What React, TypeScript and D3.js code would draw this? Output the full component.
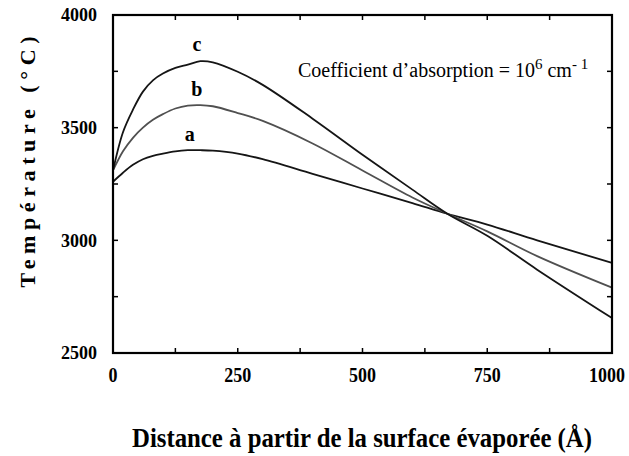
import React from "react";
import * as d3 from "d3";

const distance = [0, 20, 40, 60, 80, 100, 125, 150, 175, 200, 250, 300, 400, 500, 600, 670, 750, 850, 1000];
const curveA = [3260, 3300, 3335, 3360, 3375, 3385, 3395, 3400, 3400, 3398, 3385, 3360, 3295, 3230, 3165, 3118, 3070, 3000, 2900];
const curveB = [3310, 3395, 3455, 3500, 3535, 3560, 3585, 3598, 3600, 3595, 3565, 3530, 3430, 3310, 3190, 3118, 3040, 2930, 2790];
const curveC = [3310, 3480, 3580, 3660, 3710, 3740, 3765, 3780, 3795, 3790, 3748, 3690, 3540, 3380, 3225, 3118, 3020, 2870, 2655];
const seriesNames = ["a", "b", "c"];
const xTicks = [0, 250, 500, 750, 1000];
const xMinorTicks = [125, 375, 625, 875];
const yTicks = [2500, 3000, 3500, 4000];
const yMinorTicks = [2750, 3250, 3750];

const W = 629;
const H = 456;
const M = { left: 113, right: 17, top: 15, bottom: 103 };
const FONT = { fontFamily: "Liberation Serif" };

export default function App() {
  const x = d3.scaleLinear().domain([0, 1000]).range([M.left, W - M.right]);
  const y = d3.scaleLinear().domain([2500, 4000]).range([H - M.bottom, M.top]);
  const series = [curveA, curveB, curveC];
  const colors = ["#151515", "#505050", "#151515"];
  const line = d3
    .line<number>()
    .x((_, i) => x(distance[i]))
    .y((v) => y(v))
    .curve(d3.curveCatmullRom.alpha(0.5));
  const labelPos = [
    { d: 154, v: 3400 },
    { d: 168, v: 3600 },
    { d: 168, v: 3800 },
  ];
  const tickLen = 5;
  const x0 = x(0), x1 = x(1000), yb = y(2500), yt = y(4000);
  return (
    <svg width={W} height={H} style={{ position: "absolute", left: 0, top: 0, background: "#fff" }}>
      <rect x={0} y={0} width={W} height={H} fill="#fff" />
      {series.map((s, i) => (
        <path key={i} d={line(s) || ""} fill="none" stroke={colors[i]} strokeWidth={1.8} />
      ))}
      <rect x={x0} y={yt} width={x1 - x0} height={yb - yt} fill="none" stroke="#000" strokeWidth={2.2} />
      {[...xTicks, ...xMinorTicks].map((t) => (
        <g key={"xt" + t}>
          <line x1={x(t)} x2={x(t)} y1={yb} y2={yb - tickLen} stroke="#000" strokeWidth={1.5} />
          <line x1={x(t)} x2={x(t)} y1={yt} y2={yt + tickLen} stroke="#000" strokeWidth={1.5} />
        </g>
      ))}
      {[...yTicks, ...yMinorTicks].map((t) => (
        <g key={"yt" + t}>
          <line x1={x0} x2={x0 + tickLen} y1={y(t)} y2={y(t)} stroke="#000" strokeWidth={1.5} />
          <line x1={x1} x2={x1 - tickLen} y1={y(t)} y2={y(t)} stroke="#000" strokeWidth={1.5} />
        </g>
      ))}
      {xTicks.map((t) => (
        <text
          key={"xl" + t}
          x={t === 1000 ? x(t) - 5 : x(t)}
          y={382}
          textAnchor="middle"
          fontSize={18}
          fontWeight="bold"
          style={FONT}
          transform={`translate(0,382) scale(1,1.12) translate(0,-382)`}
        >
          {t}
        </text>
      ))}
      {yTicks.map((t) => (
        <text
          key={"yl" + t}
          x={97}
          y={y(t)}
          dy="0.35em"
          textAnchor="end"
          fontSize={18}
          fontWeight="bold"
          style={FONT}
        >
          {t}
        </text>
      ))}
      {seriesNames.map((n, i) => (
        <text
          key={n}
          x={x(labelPos[i].d)}
          y={y(labelPos[i].v) - 9}
          textAnchor="middle"
          fontSize={20}
          fontWeight="bold"
          style={FONT}
        >
          {n}
        </text>
      ))}
      <text x={298} y={77} fontSize={20} fill="#000" style={FONT}>
        Coefficient d’absorption = 10
        <tspan dy={-8} fontSize={15} style={FONT}>6</tspan>
        <tspan dy={8} style={FONT}> cm</tspan>
        <tspan dy={-8} fontSize={15} style={FONT}>- 1</tspan>
      </text>
      <text
        transform="translate(35,162) rotate(-90)"
        textAnchor="middle"
        fontSize={22}
        fontWeight="bold"
        style={FONT}
        textLength={251}
        lengthAdjust="spacing"
      >
        Température (°C)
      </text>
      <g transform="translate(362,447) scale(1,1.15)">
        <text
          x={0}
          y={0}
          textAnchor="middle"
          fontSize={23}
          fontWeight="bold"
          style={FONT}
          textLength={460}
          lengthAdjust="spacingAndGlyphs"
        >
          Distance à partir de la surface évaporée (Å)
        </text>
      </g>
    </svg>
  );
}
